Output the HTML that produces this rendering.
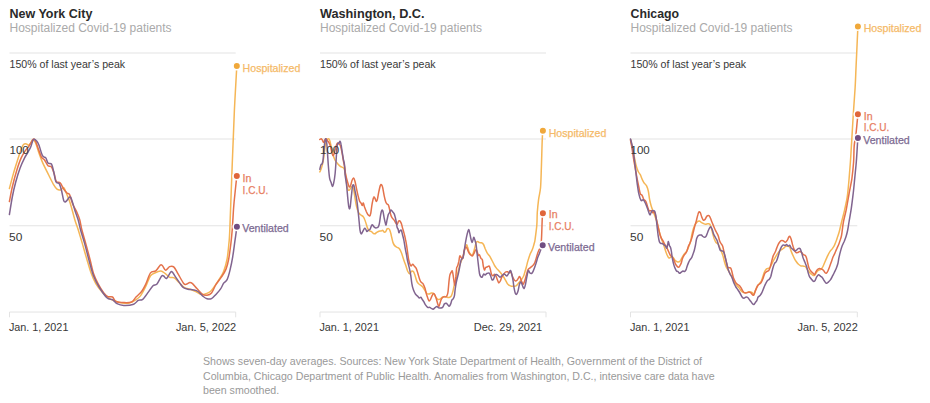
<!DOCTYPE html>
<html><head><meta charset="utf-8"><title>Hospitalized Covid-19 patients</title>
<style>
html,body{margin:0;padding:0;background:#fff;}
body{width:930px;height:403px;overflow:hidden;position:relative;font-family:"Liberation Sans",sans-serif;}
svg{position:absolute;left:0;top:0;}
svg text{font-family:"Liberation Sans",sans-serif;}
.t{font-size:12.6px;font-weight:bold;fill:#2a2a2a;}
.st{font-size:12px;fill:#aaa;}
.ax{font-size:10.6px;fill:#383838;}
.lb{font-size:10.6px;}
.note{position:absolute;left:203px;top:354.3px;width:520px;font-size:10.63px;line-height:14.5px;color:#999;margin:0;}
</style></head><body>
<svg width="930" height="403" viewBox="0 0 930 403">
<line x1="9.5" x2="235.7" y1="53.0" y2="53.0" stroke="#e3e3e3" stroke-width="1"/>
<line x1="9.5" x2="235.7" y1="139.0" y2="139.0" stroke="#e3e3e3" stroke-width="1"/>
<line x1="9.5" x2="235.7" y1="225.75" y2="225.75" stroke="#e3e3e3" stroke-width="1"/>
<path d="M9.5,317.3 V312.05 H235.7 V317.3" fill="none" stroke="#e3e3e3" stroke-width="1"/>
<path d="M9.4,188.5C10.1,186.0 12.0,178.5 13.4,173.6C14.8,168.7 16.6,163.1 17.9,159.0C19.2,154.9 20.3,151.4 21.2,149.0C22.1,146.6 22.6,145.3 23.5,144.5C24.4,143.7 25.5,143.8 26.4,143.9C27.2,144.0 27.9,145.3 28.6,145.2C29.3,145.0 30.1,144.0 30.8,143.0C31.6,142.0 32.3,139.3 33.1,139.4C33.9,139.5 34.8,141.1 35.8,143.4C36.8,145.8 38.0,150.3 39.1,153.5C40.2,156.7 41.0,159.1 42.5,162.4C44.0,165.8 46.1,169.9 48.0,173.6C49.9,177.3 52.1,182.1 53.6,184.7C55.1,187.3 55.8,188.3 57.0,189.2C58.2,190.1 59.7,190.2 60.8,189.9C61.9,189.7 62.7,186.9 63.7,187.7C64.7,188.5 65.9,192.1 67.0,194.8C68.1,197.5 69.1,199.5 70.4,203.7C71.7,207.9 73.6,215.6 74.9,220.0C76.2,224.4 77.1,226.1 78.3,230.0C79.5,233.9 80.9,238.6 82.3,243.4C83.7,248.2 85.3,254.0 86.8,259.0C88.3,264.0 89.8,269.5 91.3,273.6C92.8,277.7 93.9,280.4 95.8,283.6C97.7,286.8 100.5,290.3 102.5,292.6C104.5,294.9 106.0,296.1 108.0,297.5C110.0,298.9 112.3,300.1 114.7,301.0C117.1,301.9 120.2,302.7 122.6,303.0C125.0,303.3 127.3,303.4 129.3,303.0C131.4,302.6 133.1,301.6 134.9,300.4C136.8,299.2 138.6,298.3 140.4,295.9C142.2,293.5 144.3,289.2 146.0,285.9C147.7,282.5 148.9,278.0 150.5,275.8C152.1,273.6 153.6,273.5 155.3,272.7C157.0,271.9 159.2,271.0 160.9,271.1C162.6,271.2 163.8,272.6 165.3,273.6C166.8,274.7 168.3,276.7 169.8,277.4C171.3,278.1 172.7,276.9 174.3,277.8C175.9,278.7 177.8,281.4 179.5,283.0C181.2,284.6 182.8,286.7 184.6,287.7C186.4,288.7 188.3,288.6 190.2,289.2C192.1,289.8 193.9,290.6 195.8,291.5C197.7,292.4 199.7,294.0 201.4,294.4C203.1,294.8 204.4,294.2 205.9,293.7C207.4,293.2 208.8,292.8 210.3,291.5C211.8,290.2 213.3,287.9 214.8,285.9C216.3,283.8 217.8,281.6 219.3,279.2C220.8,276.8 222.4,274.7 223.7,271.3C225.0,267.9 226.3,263.3 227.1,259.0C227.9,254.7 228.2,250.4 228.7,245.6C229.1,240.8 229.2,243.4 229.8,230.0C230.4,216.6 231.4,185.0 232.2,165.0C233.0,145.0 233.6,126.5 234.4,110.0C235.2,93.5 236.4,73.4 236.8,66.1" fill="none" stroke="#f5b656" stroke-width="1.5" stroke-linejoin="round" stroke-linecap="round"/>
<path d="M9.4,201.5C9.9,199.1 11.1,192.2 12.3,187.0C13.5,181.8 15.3,175.0 16.8,170.2C18.3,165.3 19.7,161.2 21.2,157.9C22.7,154.6 24.4,152.1 25.7,150.1C27.0,148.1 27.8,147.9 29.0,146.1C30.2,144.3 32.1,140.3 33.1,139.4C34.1,138.5 34.5,139.3 35.3,140.7C36.1,142.1 37.0,145.2 38.0,147.9C39.0,150.6 40.2,154.8 41.3,156.8C42.4,158.9 43.6,158.7 44.7,160.2C45.8,161.7 46.9,164.7 48.0,165.8C49.1,166.9 50.4,165.6 51.4,166.9C52.4,168.2 53.3,171.2 54.1,173.6C54.9,176.0 55.3,179.8 56.3,181.4C57.3,183.0 59.1,181.7 60.3,183.0C61.5,184.3 62.6,187.5 63.7,189.2C64.8,190.9 66.0,192.1 67.0,193.0C68.0,193.9 68.8,193.0 69.7,194.8C70.6,196.6 71.4,200.7 72.6,203.7C73.8,206.7 75.9,210.0 77.1,212.7C78.3,215.4 79.0,217.1 79.8,220.0C80.6,222.9 80.9,226.1 81.9,230.0C82.9,233.9 84.3,238.4 85.7,243.4C87.1,248.4 88.9,255.2 90.2,260.2C91.5,265.2 92.2,269.7 93.5,273.6C94.8,277.5 96.3,280.4 98.0,283.6C99.7,286.8 101.9,290.4 103.6,292.6C105.3,294.8 106.5,295.9 108.0,296.6C109.5,297.3 111.2,296.2 112.5,297.0C113.8,297.8 114.0,300.6 115.9,301.5C117.8,302.4 121.1,302.5 123.7,302.6C126.3,302.7 129.4,302.9 131.5,302.0C133.6,301.1 134.3,298.8 136.0,297.0C137.7,295.2 139.9,293.7 141.6,291.5C143.3,289.3 144.5,286.7 146.0,283.6C147.5,280.5 148.9,275.0 150.5,272.9C152.1,270.8 154.2,272.2 155.8,270.9C157.4,269.6 159.2,266.0 160.3,265.1C161.4,264.2 161.6,265.0 162.5,265.8C163.4,266.6 164.4,270.1 165.6,270.2C166.8,270.3 168.2,267.2 169.6,266.6C170.9,266.1 172.3,265.7 173.7,266.9C175.1,268.1 176.3,270.9 177.9,273.6C179.5,276.3 182.1,281.4 183.5,283.2C184.9,285.0 185.1,284.4 186.2,284.3C187.2,284.2 188.8,282.6 189.8,282.5C190.9,282.4 191.3,282.6 192.5,283.6C193.7,284.6 195.2,286.7 196.9,288.5C198.6,290.3 200.8,293.3 202.5,294.4C204.2,295.5 205.5,295.4 207.0,295.2C208.5,295.0 210.0,294.8 211.5,293.0C213.0,291.2 214.2,287.4 215.9,284.7C217.6,282.0 219.8,279.5 221.5,276.9C223.2,274.3 224.8,272.1 226.0,269.1C227.2,266.1 227.9,263.3 228.7,259.0C229.5,254.7 230.3,248.2 230.9,243.4C231.5,238.6 231.9,233.8 232.2,230.0C232.5,226.2 232.5,225.6 232.8,220.9C233.1,216.2 233.4,209.5 234.1,202.0C234.8,194.5 236.4,180.4 236.8,176.1" fill="none" stroke="#e4724b" stroke-width="1.5" stroke-linejoin="round" stroke-linecap="round"/>
<path d="M9.4,214.5C9.9,211.6 11.3,202.3 12.3,197.0C13.3,191.7 14.3,187.3 15.6,182.5C16.9,177.7 18.6,172.1 20.1,168.0C21.6,163.9 23.3,160.5 24.6,157.9C25.9,155.3 26.9,154.2 27.9,152.3C28.9,150.5 29.9,149.0 30.8,146.8C31.7,144.7 32.5,140.3 33.5,139.4C34.5,138.5 36.0,140.2 36.9,141.2C37.8,142.2 38.2,143.2 39.1,145.6C40.0,148.0 41.4,153.6 42.5,155.7C43.6,157.8 44.9,156.7 45.8,157.9C46.7,159.1 47.1,162.1 48.0,163.1C48.9,164.1 50.5,162.6 51.4,164.0C52.3,165.4 52.9,168.3 53.6,171.3C54.4,174.3 55.0,179.8 55.9,181.8C56.8,183.9 58.3,182.2 59.2,183.6C60.1,185.0 60.8,187.5 61.5,190.3C62.2,193.1 63.0,198.5 63.7,200.4C64.4,202.3 64.9,202.1 65.9,201.5C66.9,200.9 68.8,197.4 69.7,197.0C70.6,196.6 70.6,197.1 71.5,199.3C72.4,201.5 73.8,207.0 74.9,210.4C76.0,213.8 77.2,216.7 78.2,220.0C79.2,223.3 79.5,226.1 80.6,230.0C81.7,233.9 83.2,238.4 84.6,243.4C86.0,248.4 87.5,254.8 89.0,260.2C90.5,265.6 91.8,271.3 93.5,275.8C95.2,280.3 96.9,283.4 99.1,287.0C101.3,290.6 104.7,295.6 106.9,297.7C109.1,299.8 110.8,298.7 112.5,299.7C114.2,300.7 115.1,302.7 117.0,303.7C118.9,304.7 120.9,305.4 123.7,305.5C126.5,305.6 131.3,305.1 133.7,304.2C136.1,303.3 136.7,301.2 138.2,300.4C139.7,299.6 141.0,300.7 142.7,299.3C144.4,297.9 146.6,294.4 148.3,292.1C150.0,289.8 151.6,287.1 153.0,285.7C154.4,284.3 155.6,285.5 157.0,283.9C158.4,282.3 160.4,277.6 161.5,276.3C162.6,275.0 162.9,275.6 163.7,276.0C164.5,276.4 165.4,279.1 166.5,278.5C167.6,277.9 169.4,273.6 170.4,272.5C171.4,271.4 171.6,271.3 172.5,272.2C173.4,273.1 174.7,275.8 176.0,277.7C177.3,279.6 178.9,281.9 180.2,283.6C181.4,285.3 182.2,286.8 183.5,287.7C184.8,288.6 186.3,288.8 188.0,289.2C189.7,289.6 191.9,289.5 193.6,289.9C195.3,290.3 196.5,290.5 198.0,291.5C199.5,292.5 201.0,294.7 202.5,295.9C204.0,297.1 205.5,298.4 207.0,298.8C208.5,299.2 210.0,299.3 211.5,298.6C213.0,297.9 214.4,296.0 215.9,294.4C217.4,292.8 219.1,291.1 220.4,289.2C221.7,287.3 222.6,284.8 223.7,283.2C224.8,281.6 226.0,281.8 227.1,279.6C228.2,277.4 229.1,274.0 230.0,270.2C230.9,266.4 231.9,261.6 232.7,256.8C233.5,252.0 234.2,246.2 234.9,241.2C235.6,236.2 236.6,229.2 236.9,226.8" fill="none" stroke="#81648f" stroke-width="1.5" stroke-linejoin="round" stroke-linecap="round"/>
<text x="9.5" y="18" class="t" style="font-size:12.5px">New York City</text>
<text x="9.5" y="31.5" class="st">Hospitalized Covid-19 patients</text>
<text x="9.5" y="67.7" class="ax">150% of last year’s peak</text>
<text x="9.5" y="153.6" class="ax" textLength="19.3" lengthAdjust="spacingAndGlyphs">100</text>
<text x="9.0" y="240.5" class="ax" textLength="13.3" lengthAdjust="spacingAndGlyphs">50</text>
<text x="8.9" y="330.6" class="ax" textLength="59.5" lengthAdjust="spacingAndGlyphs">Jan. 1, 2021</text>
<text x="175.9" y="330.6" class="ax" textLength="60.3" lengthAdjust="spacingAndGlyphs">Jan. 5, 2022</text>
<circle cx="236.8" cy="66.1" r="3.75" fill="#f0a83a" stroke="#fff" stroke-width="1.5"/>
<text x="242.6" y="71.7" class="lb" fill="#f5ba68" stroke="#f5ba68" stroke-width="0.25">Hospitalized</text>
<circle cx="236.8" cy="176.1" r="3.75" fill="#e0663a" stroke="#fff" stroke-width="1.5"/>
<text x="242.6" y="181.9" class="lb" fill="#e77e62" stroke="#e77e62" stroke-width="0.25">In</text>
<text x="242.6" y="193.6" class="lb" fill="#e77e62" stroke="#e77e62" stroke-width="0.25" textLength="25.6" lengthAdjust="spacingAndGlyphs">I.C.U.</text>
<circle cx="236.9" cy="226.8" r="3.75" fill="#714e82" stroke="#fff" stroke-width="1.5"/>
<text x="242.2" y="232.4" class="lb" fill="#7c6a92" stroke="#7c6a92" stroke-width="0.25">Ventilated</text>
<line x1="320" x2="546" y1="53.0" y2="53.0" stroke="#e3e3e3" stroke-width="1"/>
<line x1="320" x2="546" y1="139.0" y2="139.0" stroke="#e3e3e3" stroke-width="1"/>
<line x1="320" x2="546" y1="225.75" y2="225.75" stroke="#e3e3e3" stroke-width="1"/>
<path d="M320,317.3 V312.05 H546 V317.3" fill="none" stroke="#e3e3e3" stroke-width="1"/>
<path d="M319.8,171.9C320.1,171.3 320.7,170.3 321.3,168.5C321.9,166.7 322.6,164.6 323.2,161.0C323.8,157.4 324.5,150.4 325.1,146.9C325.7,143.4 326.3,141.6 326.9,140.2C327.5,138.8 328.2,138.6 328.7,138.7C329.2,138.8 329.4,139.4 329.9,140.9C330.3,142.4 330.9,145.4 331.4,147.6C331.9,149.8 332.3,152.2 332.9,154.3C333.5,156.4 334.4,158.8 335.1,160.3C335.8,161.8 336.4,162.3 337.3,163.3C338.2,164.3 339.3,165.6 340.3,166.3C341.3,167.1 342.6,167.1 343.3,167.8C344.1,168.5 344.3,168.7 344.8,170.7C345.3,172.7 345.9,177.2 346.2,179.7C346.5,182.1 346.6,183.7 346.9,185.4C347.2,187.1 347.7,189.2 348.1,189.9C348.5,190.7 349.0,190.3 349.5,189.9C350.0,189.5 350.4,188.3 350.9,187.7C351.3,187.1 351.8,186.2 352.2,186.5C352.6,186.8 353.2,187.6 353.6,189.2C354.0,190.8 354.3,193.6 354.7,195.9C355.1,198.2 355.5,201.1 355.9,203.3C356.3,205.5 356.8,207.7 357.3,209.3C357.8,210.9 358.2,212.0 358.8,213.0C359.4,214.0 360.4,214.6 361.1,215.2C361.9,215.8 362.7,215.9 363.3,216.7C363.9,217.4 364.3,218.4 364.8,219.7C365.3,220.9 365.8,222.7 366.3,224.2C366.8,225.7 367.2,227.5 367.8,228.6C368.4,229.7 369.0,230.4 369.6,230.9C370.2,231.4 370.9,231.2 371.5,231.6C372.1,232.0 372.4,232.7 373.0,233.1C373.6,233.5 374.3,233.9 374.9,233.8C375.5,233.7 376.0,232.8 376.7,232.4C377.4,232.0 378.1,231.6 378.9,231.3C379.6,231.1 380.6,231.1 381.2,230.9C381.8,230.8 382.2,230.2 382.7,230.4C383.2,230.6 383.7,231.9 384.2,232.1C384.7,232.3 385.2,232.1 385.7,231.6C386.2,231.1 386.6,229.4 387.1,228.9C387.6,228.4 388.2,228.4 388.6,228.6C389.1,228.8 389.4,229.2 389.8,230.1C390.2,231.0 390.6,232.7 390.9,233.8C391.2,234.9 391.2,235.4 391.6,236.9C392.0,238.4 392.6,241.4 393.1,242.9C393.7,244.4 394.2,245.2 394.9,245.9C395.6,246.6 396.4,246.8 397.1,247.3C397.9,247.8 398.6,247.8 399.4,248.8C400.1,249.8 400.9,251.4 401.6,253.3C402.3,255.2 403.1,257.9 403.8,260.0C404.5,262.1 405.4,264.1 406.0,266.0C406.6,267.9 407.1,269.9 407.7,271.2C408.3,272.5 409.0,273.7 409.7,273.7C410.4,273.7 411.0,271.5 411.6,271.2C412.2,270.9 412.8,271.0 413.4,271.6C413.9,272.2 414.3,273.3 414.9,274.9C415.4,276.4 416.1,279.4 416.7,280.9C417.3,282.4 417.9,283.1 418.6,283.8C419.3,284.5 420.2,284.8 420.9,285.3C421.6,285.8 422.0,286.1 422.6,286.8C423.2,287.6 423.9,288.7 424.6,289.8C425.3,290.9 426.1,292.8 426.8,293.5C427.6,294.2 428.4,294.1 429.1,294.0C429.9,293.9 430.6,293.2 431.3,293.1C432.0,293.0 432.8,292.8 433.5,293.5C434.2,294.2 435.1,296.2 435.8,297.2C436.6,298.2 437.3,299.2 438.0,299.5C438.7,299.8 439.4,299.4 440.2,299.0C440.9,298.6 441.8,297.6 442.5,297.2C443.2,296.8 444.0,296.5 444.7,296.5C445.4,296.5 446.1,297.0 446.9,297.2C447.6,297.4 448.4,297.7 449.2,297.5C449.9,297.3 450.8,296.8 451.4,295.8C452.0,294.8 452.5,292.8 452.9,291.3C453.3,289.8 453.5,288.5 453.9,286.8C454.3,285.1 454.8,282.9 455.4,280.9C456.0,278.9 456.8,277.2 457.4,274.9C458.0,272.6 458.6,269.4 459.2,267.1C459.8,264.8 460.5,262.9 461.2,261.2C461.9,259.5 462.5,258.8 463.1,256.7C463.7,254.6 464.3,250.5 464.9,248.5C465.4,246.5 465.9,245.1 466.4,244.8C466.8,244.6 467.2,245.8 467.6,247.0C468.1,248.2 468.6,250.9 469.1,252.2C469.7,253.4 470.4,254.0 470.9,254.5C471.4,255.0 471.8,255.7 472.3,255.2C472.8,254.7 473.4,252.9 473.8,251.5C474.2,250.1 474.6,248.5 475.0,247.0C475.4,245.5 475.7,243.5 476.1,242.6C476.5,241.7 477.0,241.5 477.6,241.5C478.2,241.5 478.9,242.4 479.5,242.6C480.1,242.8 480.8,242.5 481.5,242.8C482.2,243.1 482.9,243.5 483.5,244.5C484.1,245.5 484.6,247.2 485.2,248.7C485.8,250.1 486.6,251.9 487.3,253.2C488.1,254.4 488.9,255.0 489.7,256.2C490.5,257.4 491.2,259.1 492.0,260.5C492.8,261.9 493.5,263.5 494.2,264.8C494.9,266.1 495.6,267.1 496.4,268.1C497.2,269.1 498.0,269.8 498.8,270.7C499.6,271.6 500.2,272.3 501.0,273.3C501.8,274.3 502.6,275.4 503.3,276.5C504.1,277.6 504.8,279.0 505.5,280.2C506.2,281.4 506.9,283.0 507.5,283.9C508.1,284.8 508.6,285.0 509.3,285.4C510.0,285.8 510.8,286.1 511.5,286.2C512.2,286.3 513.0,286.2 513.7,286.2C514.5,286.1 515.3,286.3 516.0,285.9C516.7,285.5 517.3,284.6 517.9,283.9C518.5,283.2 519.1,282.4 519.7,281.7C520.3,281.0 520.9,280.4 521.5,279.5C522.1,278.6 522.8,277.8 523.4,276.5C524.0,275.2 524.4,273.6 524.9,272.0C525.4,270.4 525.9,268.7 526.4,266.8C526.9,264.9 527.3,262.9 527.9,260.9C528.5,258.9 529.2,256.5 529.8,254.9C530.4,253.3 531.0,252.4 531.6,251.2C532.2,249.9 532.7,248.8 533.1,247.4C533.5,246.0 534.0,244.2 534.3,243.0C534.6,241.8 534.6,242.9 535.0,240.0C535.4,237.1 536.4,230.0 536.8,225.4C537.2,220.8 537.0,216.7 537.3,212.3C537.6,208.0 538.1,203.4 538.6,199.3C539.1,195.2 540.0,193.4 540.5,188.0C541.0,182.6 541.1,174.8 541.4,166.6C541.7,158.4 542.0,144.6 542.3,138.6C542.5,132.6 542.8,132.1 542.9,130.8" fill="none" stroke="#f5b656" stroke-width="1.5" stroke-linejoin="round" stroke-linecap="round"/>
<path d="M319.8,139.4C320.1,139.3 320.9,138.6 321.3,138.7C321.7,138.8 322.0,139.6 322.4,140.2C322.8,140.8 323.2,142.5 323.6,142.4C324.1,142.3 324.7,140.0 325.1,139.4C325.6,138.8 325.9,138.7 326.3,138.9C326.7,139.2 327.2,140.2 327.7,140.9C328.2,141.6 328.7,142.2 329.2,143.2C329.7,144.2 330.1,145.2 330.6,146.9C331.1,148.6 331.7,152.1 332.1,153.6C332.5,155.1 332.8,155.9 333.2,155.8C333.6,155.7 333.9,154.4 334.4,152.9C334.8,151.4 335.4,148.5 335.9,146.9C336.4,145.3 336.8,143.7 337.3,143.2C337.8,142.7 338.3,143.5 338.8,143.9C339.3,144.3 339.8,144.2 340.3,145.5C340.8,146.8 341.3,148.9 341.8,151.4C342.3,153.9 342.8,157.6 343.3,160.3C343.8,163.0 344.4,165.4 344.8,167.8C345.2,170.2 345.2,172.6 345.7,175.0C346.2,177.4 347.1,180.4 347.7,182.4C348.3,184.4 348.7,186.4 349.2,186.9C349.7,187.4 350.1,186.5 350.6,185.4C351.1,184.3 351.6,181.4 352.1,180.2C352.6,179.0 353.1,177.8 353.6,178.0C354.1,178.2 354.6,179.8 355.1,181.7C355.6,183.6 356.1,186.8 356.6,189.2C357.1,191.6 357.6,193.9 358.1,195.9C358.6,197.9 359.1,199.9 359.6,201.1C360.1,202.3 360.7,202.6 361.1,203.3C361.6,204.0 361.9,205.6 362.3,205.5C362.7,205.4 362.9,202.8 363.3,203.0C363.7,203.2 364.0,205.6 364.5,207.0C365.0,208.4 365.8,210.2 366.3,211.5C366.9,212.8 367.2,213.8 367.8,214.5C368.4,215.2 369.1,216.2 369.6,216.0C370.1,215.8 370.4,215.1 370.8,213.0C371.2,210.9 371.7,205.9 372.2,203.3C372.7,200.7 373.2,198.2 373.7,197.3C374.1,196.4 374.5,197.4 374.9,198.1C375.3,198.8 375.9,201.4 376.3,201.5C376.7,201.6 377.1,200.5 377.5,198.8C377.9,197.1 378.4,193.6 378.9,191.4C379.4,189.2 379.9,186.5 380.4,185.4C380.8,184.3 381.2,184.3 381.6,184.7C382.0,185.1 382.3,185.8 382.7,187.7C383.1,189.6 383.7,193.6 384.2,195.9C384.7,198.2 385.2,200.5 385.7,201.8C386.2,203.2 386.6,203.4 387.1,204.0C387.6,204.6 388.2,204.5 388.6,205.5C389.0,206.5 389.3,208.4 389.7,210.0C390.1,211.6 390.4,213.8 390.9,215.2C391.3,216.6 391.8,217.3 392.4,218.2C393.0,219.1 393.7,219.5 394.3,220.4C394.9,221.3 395.6,222.8 396.1,223.4C396.6,224.0 396.9,224.6 397.3,224.2C397.7,223.8 398.2,221.8 398.6,221.2C399.0,220.6 399.4,220.5 399.8,220.9C400.2,221.3 400.9,222.4 401.3,223.4C401.7,224.4 401.9,225.6 402.3,227.1C402.7,228.6 403.2,230.3 403.8,232.4C404.4,234.5 405.1,237.2 405.6,239.9C406.2,242.6 406.6,245.6 407.1,248.8C407.6,252.0 408.1,256.7 408.6,259.3C409.1,261.9 409.7,263.4 410.1,264.5C410.5,265.6 410.8,266.1 411.2,266.0C411.6,265.9 412.2,264.2 412.7,264.2C413.2,264.2 413.6,265.3 414.2,266.0C414.8,266.7 415.5,267.0 416.1,268.2C416.7,269.4 417.3,271.5 417.9,273.4C418.5,275.3 419.1,277.9 419.7,279.4C420.2,280.9 420.6,281.6 421.2,282.3C421.8,283.0 422.5,282.8 423.1,283.8C423.7,284.8 424.4,286.6 425.0,288.3C425.6,290.1 426.0,292.6 426.5,294.3C427.0,296.0 427.6,297.6 428.0,298.7C428.4,299.8 428.7,300.9 429.1,301.0C429.5,301.1 430.0,300.4 430.5,299.5C431.0,298.6 431.5,296.8 432.0,295.8C432.5,294.8 433.0,293.6 433.5,293.5C434.0,293.4 434.5,294.0 435.0,295.0C435.5,296.0 436.0,297.9 436.5,299.5C437.0,301.1 437.6,303.6 438.0,304.7C438.4,305.8 438.6,306.6 439.0,306.2C439.4,305.8 439.8,303.8 440.2,302.5C440.6,301.2 441.1,299.6 441.7,298.7C442.2,297.8 442.9,297.2 443.5,296.9C444.1,296.6 444.8,297.1 445.4,296.9C446.0,296.7 446.5,296.6 446.9,295.8C447.3,295.0 447.7,294.2 448.0,292.0C448.3,289.8 448.6,285.2 448.9,282.3C449.2,279.4 449.5,276.6 449.9,274.9C450.3,273.2 451.0,272.5 451.4,271.9C451.8,271.3 452.1,270.4 452.4,271.2C452.7,271.9 453.0,274.3 453.3,276.4C453.6,278.5 454.1,282.4 454.4,283.8C454.7,285.2 454.9,285.8 455.1,284.6C455.4,283.4 455.6,279.1 455.9,276.4C456.1,273.7 456.3,270.0 456.6,268.2C456.9,266.4 457.3,266.9 457.7,265.7C458.1,264.5 458.5,262.8 458.9,261.2C459.2,259.6 459.4,256.6 459.8,256.0C460.2,255.4 460.7,257.1 461.2,257.5C461.7,257.9 462.2,259.3 462.7,258.2C463.2,257.1 463.7,252.7 464.2,250.8C464.7,248.9 465.1,247.4 465.6,247.0C466.1,246.6 466.6,247.6 467.1,248.5C467.6,249.4 468.1,251.2 468.6,252.2C469.1,253.2 469.5,253.9 470.1,254.5C470.7,255.1 471.7,256.1 472.3,256.0C472.9,255.9 473.2,254.7 473.8,253.7C474.4,252.7 475.1,250.5 475.6,250.0C476.1,249.5 476.4,249.9 476.8,250.8C477.2,251.7 477.9,254.5 478.3,255.2C478.8,255.9 479.1,254.4 479.5,254.9C479.9,255.4 480.5,257.5 481.0,258.4C481.5,259.2 482.0,258.6 482.4,260.0C482.8,261.4 483.0,264.8 483.4,266.5C483.8,268.2 484.1,269.8 484.5,270.0C484.9,270.2 485.2,268.0 485.7,267.5C486.2,267.0 486.9,267.0 487.5,266.8C488.1,266.6 488.7,265.8 489.2,266.2C489.7,266.6 489.9,267.9 490.3,269.2C490.7,270.5 491.0,273.0 491.4,274.1C491.8,275.2 492.4,275.8 492.9,275.8C493.4,275.8 493.9,274.3 494.4,274.3C494.9,274.3 495.4,274.9 495.9,275.8C496.4,276.7 496.8,278.3 497.3,279.5C497.8,280.7 498.3,282.6 498.8,282.9C499.3,283.1 499.8,281.9 500.3,281.0C500.8,280.1 501.2,278.3 501.8,277.2C502.4,276.1 503.0,275.2 503.6,274.3C504.2,273.4 504.9,272.4 505.5,272.0C506.1,271.6 506.9,271.6 507.5,271.7C508.1,271.8 508.4,272.8 509.0,272.8C509.6,272.9 510.3,271.5 510.8,272.0C511.3,272.5 511.7,274.6 512.2,275.8C512.7,277.1 513.5,278.6 514.0,279.5C514.5,280.4 515.0,280.9 515.5,281.0C516.0,281.1 516.5,280.7 517.0,280.2C517.5,279.7 518.0,278.6 518.5,278.0C519.0,277.4 519.3,276.2 519.7,276.5C520.1,276.8 520.5,278.4 520.9,279.5C521.3,280.6 522.0,282.4 522.4,283.2C522.8,283.9 523.0,284.5 523.4,284.0C523.8,283.5 524.4,281.7 524.9,280.2C525.4,278.7 525.9,276.7 526.4,275.0C526.9,273.3 527.4,270.9 527.9,269.8C528.4,268.7 528.8,268.8 529.4,268.3C530.0,267.8 530.7,267.3 531.3,266.8C531.9,266.3 532.5,265.9 533.1,265.3C533.7,264.7 534.1,264.2 534.6,263.1C535.1,262.0 535.6,260.2 536.1,258.6C536.6,257.0 537.1,254.9 537.6,253.4C538.1,251.9 538.7,250.6 539.1,249.7C539.5,248.8 539.7,249.8 540.1,248.2C540.5,246.6 541.0,245.4 541.4,240.3C541.8,235.2 542.0,222.4 542.3,217.9C542.5,213.4 542.8,214.1 542.9,213.3" fill="none" stroke="#e4724b" stroke-width="1.5" stroke-linejoin="round" stroke-linecap="round"/>
<path d="M319.8,169.2C320.0,168.5 320.6,165.7 321.0,164.8C321.4,163.9 321.8,164.6 322.2,163.6C322.6,162.6 322.9,161.6 323.2,158.8C323.5,156.0 323.8,150.1 324.2,146.9C324.6,143.7 325.0,140.5 325.4,139.4C325.8,138.3 326.0,138.7 326.3,140.2C326.6,141.7 326.9,144.1 327.2,148.4C327.5,152.8 328.0,161.3 328.4,166.3C328.8,171.3 329.2,175.7 329.6,178.2C330.0,180.7 330.3,180.3 330.6,181.2C330.9,182.1 331.1,182.5 331.4,183.4C331.7,184.3 332.0,186.4 332.4,186.4C332.8,186.4 333.2,185.5 333.6,183.4C334.1,181.3 334.7,177.8 335.1,173.7C335.5,169.6 335.9,163.3 336.2,158.8C336.5,154.3 336.7,149.5 337.0,146.9C337.3,144.3 337.8,143.8 338.1,143.2C338.5,142.6 338.8,143.5 339.1,143.2C339.4,142.9 339.7,140.9 340.0,141.2C340.3,141.4 340.8,143.0 341.1,144.7C341.5,146.4 341.7,149.1 342.1,151.4C342.5,153.8 342.9,156.6 343.3,158.8C343.7,161.0 344.2,162.1 344.5,164.8C344.8,167.5 344.8,171.6 345.1,175.0C345.5,178.4 346.2,181.7 346.6,185.4C347.0,189.1 347.4,193.8 347.7,197.3C348.0,200.8 348.4,204.4 348.7,206.3C349.0,208.2 349.2,209.0 349.5,209.0C349.8,209.0 350.0,208.5 350.3,206.3C350.6,204.1 351.0,199.1 351.4,195.9C351.8,192.7 352.1,188.8 352.4,186.9C352.7,185.0 352.9,184.8 353.2,184.7C353.5,184.6 353.8,185.1 354.1,186.2C354.4,187.3 354.7,189.3 355.1,191.4C355.5,193.5 356.1,195.6 356.6,198.8C357.1,202.0 357.7,207.1 358.1,210.8C358.5,214.5 358.8,218.0 359.1,221.2C359.4,224.4 359.7,228.0 360.0,230.1C360.3,232.2 360.7,233.4 361.1,233.8C361.5,234.2 361.9,233.1 362.3,232.4C362.7,231.7 363.2,230.5 363.6,229.8C364.0,229.1 364.4,228.4 364.8,228.3C365.2,228.2 365.4,228.9 365.8,229.4C366.2,229.9 366.6,231.5 367.0,231.6C367.4,231.7 368.0,230.5 368.5,230.1C369.0,229.7 369.5,230.1 370.0,229.4C370.5,228.7 371.1,226.4 371.5,225.7C371.9,224.9 372.1,224.7 372.5,224.9C372.9,225.1 373.4,226.3 374.0,226.8C374.6,227.3 375.3,227.9 376.0,227.9C376.7,227.9 377.6,227.8 378.2,227.1C378.8,226.3 379.0,225.5 379.4,223.4C379.8,221.3 380.3,216.7 380.7,214.5C381.1,212.3 381.5,210.8 381.9,210.3C382.3,209.8 382.6,210.2 383.0,211.5C383.4,212.8 383.8,216.2 384.2,218.2C384.6,220.2 385.1,222.3 385.4,223.4C385.7,224.5 385.8,225.5 386.1,224.9C386.4,224.3 386.7,221.4 387.1,219.7C387.5,218.0 387.9,215.8 388.3,214.5C388.8,213.2 389.4,212.9 389.8,212.2C390.2,211.4 390.5,210.1 390.9,210.0C391.3,209.9 391.9,210.9 392.4,211.5C392.9,212.1 393.6,212.7 394.1,213.7C394.6,214.7 394.9,216.0 395.3,217.5C395.7,219.0 396.1,221.1 396.4,222.7C396.7,224.3 396.8,226.1 397.1,227.2C397.4,228.3 397.9,228.6 398.2,229.5C398.5,230.4 398.6,232.4 398.9,232.7C399.2,232.9 399.4,231.4 399.8,231.0C400.2,230.6 400.9,229.7 401.3,230.2C401.7,230.7 401.9,232.3 402.3,233.9C402.7,235.5 403.3,237.4 403.8,239.9C404.3,242.4 404.8,246.1 405.3,248.8C405.8,251.5 406.5,254.4 406.8,256.3C407.1,258.2 407.0,258.1 407.4,260.0C407.8,261.9 408.6,264.9 409.2,267.4C409.8,269.9 410.2,272.2 410.7,274.9C411.1,277.6 411.4,281.3 411.9,283.8C412.3,286.3 412.8,288.1 413.4,289.8C414.0,291.6 414.9,293.2 415.6,294.3C416.4,295.4 417.3,295.9 417.9,296.5C418.5,297.1 418.9,297.9 419.4,298.0C419.9,298.1 420.4,296.9 420.9,297.2C421.4,297.4 421.8,298.8 422.3,299.5C422.8,300.2 423.3,300.8 423.8,301.7C424.3,302.6 424.7,303.8 425.3,304.7C425.9,305.6 426.9,306.9 427.6,307.4C428.4,307.8 429.2,307.2 429.8,307.4C430.4,307.6 430.8,308.1 431.3,308.4C431.9,308.7 432.5,309.3 433.1,309.2C433.7,309.1 434.4,308.1 435.0,307.7C435.6,307.2 436.3,306.5 436.9,306.5C437.5,306.5 438.0,307.4 438.7,307.7C439.4,307.9 440.3,308.1 441.0,308.0C441.7,307.9 442.3,307.6 442.9,306.9C443.5,306.2 443.8,304.5 444.4,303.9C444.9,303.3 445.6,303.1 446.2,303.2C446.8,303.3 447.2,304.2 447.7,304.7C448.2,305.2 448.7,306.3 449.2,306.2C449.7,306.1 450.3,304.9 450.7,303.9C451.1,302.9 451.4,301.1 451.8,300.2C452.2,299.3 452.9,299.4 453.3,298.7C453.7,298.0 454.1,297.3 454.4,295.8C454.7,294.3 454.8,292.1 455.1,289.8C455.4,287.6 455.8,284.8 456.3,282.3C456.8,279.8 457.5,277.4 458.1,274.9C458.7,272.4 459.2,269.6 459.7,267.1C460.2,264.6 460.6,261.3 461.2,259.7C461.8,258.1 462.6,259.0 463.1,257.5C463.6,256.0 463.8,253.4 464.2,250.8C464.6,248.2 465.1,244.5 465.6,241.8C466.1,239.1 466.6,236.4 467.1,234.4C467.6,232.4 468.2,229.8 468.6,229.6C469.0,229.3 469.3,231.4 469.7,232.9C470.1,234.4 470.5,237.2 470.9,238.8C471.3,240.4 471.6,242.5 472.0,242.6C472.4,242.7 472.8,240.5 473.1,239.6C473.4,238.7 473.5,237.2 473.8,237.3C474.1,237.4 474.6,239.1 475.0,240.3C475.4,241.6 475.8,242.6 476.1,244.8C476.5,247.0 476.7,250.5 477.1,253.7C477.5,256.9 477.9,260.9 478.3,264.2C478.7,267.5 479.1,271.4 479.5,273.5C479.9,275.6 480.2,275.9 480.7,276.5C481.1,277.1 481.7,277.6 482.2,277.2C482.7,276.8 483.1,274.4 483.6,274.0C484.1,273.6 484.6,275.1 485.1,275.0C485.7,274.9 486.2,273.8 486.9,273.5C487.6,273.2 488.6,272.7 489.2,273.1C489.8,273.5 490.1,274.7 490.6,275.8C491.1,276.9 491.6,279.4 492.1,279.9C492.6,280.4 493.1,279.8 493.6,279.0C494.1,278.2 494.6,275.7 495.1,275.0C495.6,274.3 496.1,274.5 496.6,274.6C497.1,274.7 497.5,275.1 498.1,275.5C498.7,275.9 499.4,277.1 500.0,277.2C500.6,277.2 501.1,276.3 501.8,275.8C502.5,275.3 503.5,274.1 504.1,274.0C504.7,273.9 505.0,274.7 505.5,275.0C506.0,275.3 506.4,276.2 507.0,275.8C507.6,275.4 508.4,273.7 509.0,272.8C509.6,271.9 510.0,270.2 510.5,270.5C511.0,270.8 511.4,272.7 511.8,274.3C512.2,275.9 512.6,278.0 513.0,280.2C513.4,282.4 513.6,285.6 514.0,287.7C514.4,289.8 514.8,291.8 515.2,292.9C515.6,294.0 516.0,294.6 516.4,294.4C516.8,294.1 517.4,292.9 517.9,291.4C518.4,289.9 518.8,287.0 519.2,285.4C519.6,283.8 520.0,282.4 520.4,282.0C520.8,281.6 521.2,282.4 521.6,283.2C522.0,284.0 522.6,286.0 523.0,286.9C523.4,287.8 523.8,288.8 524.2,288.4C524.6,288.0 525.0,286.6 525.4,284.7C525.8,282.8 526.3,279.6 526.8,277.2C527.3,274.8 527.8,271.2 528.3,270.5C528.8,269.8 529.2,272.3 529.8,272.8C530.3,273.3 531.0,273.8 531.6,273.5C532.2,273.2 532.6,272.3 533.1,271.3C533.6,270.3 534.1,269.0 534.6,267.6C535.1,266.2 535.6,264.7 536.1,263.1C536.6,261.5 537.1,259.5 537.6,257.9C538.1,256.3 538.9,254.8 539.4,253.4C539.9,252.0 540.2,251.0 540.8,249.7C541.3,248.3 542.4,246.0 542.7,245.3" fill="none" stroke="#81648f" stroke-width="1.5" stroke-linejoin="round" stroke-linecap="round"/>
<text x="320" y="18" class="t" style="font-size:12.7px">Washington, D.C.</text>
<text x="320" y="31.5" class="st">Hospitalized Covid-19 patients</text>
<text x="320" y="67.7" class="ax">150% of last year’s peak</text>
<text x="320" y="153.6" class="ax" textLength="19.3" lengthAdjust="spacingAndGlyphs">100</text>
<text x="319.5" y="240.5" class="ax" textLength="13.3" lengthAdjust="spacingAndGlyphs">50</text>
<text x="319.4" y="330.6" class="ax" textLength="59.5" lengthAdjust="spacingAndGlyphs">Jan. 1, 2021</text>
<text x="473.7" y="330.6" class="ax" textLength="68.5" lengthAdjust="spacingAndGlyphs">Dec. 29, 2021</text>
<circle cx="542.9" cy="130.8" r="3.75" fill="#f0a83a" stroke="#fff" stroke-width="1.5"/>
<text x="548.7" y="136.9" class="lb" fill="#f5ba68" stroke="#f5ba68" stroke-width="0.25">Hospitalized</text>
<circle cx="542.9" cy="213.3" r="3.75" fill="#e0663a" stroke="#fff" stroke-width="1.5"/>
<text x="548.7" y="218.4" class="lb" fill="#e77e62" stroke="#e77e62" stroke-width="0.25">In</text>
<text x="548.7" y="230.1" class="lb" fill="#e77e62" stroke="#e77e62" stroke-width="0.25" textLength="25.6" lengthAdjust="spacingAndGlyphs">I.C.U.</text>
<circle cx="542.7" cy="245.3" r="3.75" fill="#714e82" stroke="#fff" stroke-width="1.5"/>
<text x="548.0" y="250.9" class="lb" fill="#7c6a92" stroke="#7c6a92" stroke-width="0.25">Ventilated</text>
<line x1="630.5" x2="857.3" y1="53.0" y2="53.0" stroke="#e3e3e3" stroke-width="1"/>
<line x1="630.5" x2="857.3" y1="139.0" y2="139.0" stroke="#e3e3e3" stroke-width="1"/>
<line x1="630.5" x2="857.3" y1="225.75" y2="225.75" stroke="#e3e3e3" stroke-width="1"/>
<path d="M630.5,317.3 V312.05 H857.3 V317.3" fill="none" stroke="#e3e3e3" stroke-width="1"/>
<path d="M630.5,139.4C630.8,140.6 631.5,143.9 632.1,146.8C632.7,149.7 633.7,153.8 634.3,156.8C634.9,159.8 635.3,162.2 635.9,164.6C636.5,167.0 637.4,169.6 638.1,171.3C638.8,173.0 639.6,173.4 640.3,174.7C641.0,176.0 641.4,177.8 642.1,179.2C642.8,180.6 643.5,182.1 644.3,183.2C645.0,184.3 645.9,184.5 646.6,185.9C647.3,187.3 647.9,189.2 648.4,191.5C648.9,193.8 649.2,197.6 649.7,200.0C650.2,202.4 650.7,204.3 651.2,206.0C651.7,207.7 652.2,209.0 652.7,210.4C653.2,211.8 653.7,212.9 654.2,214.2C654.7,215.4 655.0,216.2 655.6,217.9C656.2,219.6 657.0,222.2 657.6,224.6C658.2,226.9 658.9,229.9 659.4,232.0C659.9,234.1 660.4,235.7 660.9,237.2C661.4,238.7 661.8,239.7 662.3,241.0C662.8,242.3 663.3,243.7 663.7,245.0C664.1,246.3 664.5,247.3 664.9,248.7C665.3,250.1 665.9,251.9 666.4,253.2C666.9,254.5 667.4,255.8 667.9,256.6C668.4,257.4 668.6,258.0 669.1,258.1C669.6,258.2 670.1,257.4 670.6,257.2C671.1,256.9 671.8,256.4 672.3,256.6C672.8,256.8 673.3,257.7 673.8,258.4C674.3,259.1 674.8,260.1 675.3,260.6C675.8,261.2 676.5,261.5 677.1,261.7C677.7,261.9 678.5,262.0 679.1,261.8C679.7,261.6 680.0,261.3 680.5,260.6C681.0,259.9 681.5,258.6 682.0,257.7C682.5,256.8 682.9,256.0 683.5,255.1C684.1,254.2 685.2,253.1 685.8,252.4C686.4,251.7 686.3,251.9 686.9,250.7C687.5,249.5 688.6,247.0 689.2,245.4C689.8,243.8 690.3,242.7 690.7,241.0C691.1,239.3 691.4,237.0 691.8,235.0C692.2,233.0 692.8,230.7 693.3,229.0C693.8,227.3 694.4,225.8 695.1,224.6C695.8,223.4 696.7,222.2 697.4,221.6C698.1,221.0 698.7,220.8 699.3,220.9C699.9,221.0 700.4,221.9 701.1,222.3C701.8,222.7 702.6,223.2 703.3,223.5C704.0,223.8 704.8,224.2 705.5,224.3C706.2,224.4 707.1,223.8 707.8,223.8C708.5,223.8 709.1,223.5 709.7,224.1C710.3,224.7 710.7,226.0 711.2,227.6C711.7,229.2 712.2,231.7 712.7,233.5C713.2,235.3 713.7,237.2 714.2,238.7C714.8,240.2 715.3,241.6 716.0,242.5C716.7,243.4 717.6,243.4 718.2,244.2C718.8,245.0 719.1,246.1 719.7,247.4C720.3,248.7 721.0,250.4 721.6,251.9C722.2,253.4 722.6,254.7 723.1,256.4C723.6,258.1 724.1,260.6 724.6,262.3C725.1,264.0 725.6,265.6 726.1,266.8C726.6,268.1 727.2,268.7 727.9,269.8C728.6,270.9 729.4,272.1 730.1,273.5C730.8,274.9 731.5,276.5 732.3,278.0C733.0,279.5 733.9,281.3 734.6,282.5C735.4,283.7 736.0,284.5 736.8,285.4C737.5,286.3 738.4,287.0 739.1,287.9C739.8,288.8 740.3,289.9 741.0,290.7C741.7,291.4 742.3,292.1 743.1,292.4C743.9,292.7 744.9,292.8 745.8,292.7C746.7,292.6 747.6,292.2 748.4,292.1C749.2,292.0 749.8,292.0 750.5,292.1C751.2,292.2 752.0,292.5 752.5,292.9C753.0,293.3 753.2,294.8 753.7,294.5C754.2,294.2 754.6,292.3 755.2,290.9C755.8,289.5 756.7,287.4 757.4,286.2C758.1,285.0 758.5,284.8 759.2,283.9C759.9,283.0 760.8,282.2 761.4,281.0C762.0,279.8 762.4,278.0 762.9,276.5C763.4,275.0 763.8,273.2 764.4,272.0C765.0,270.8 765.6,269.7 766.3,269.1C767.0,268.5 767.8,268.6 768.4,268.3C769.0,268.1 769.4,268.2 769.9,267.6C770.4,267.0 770.8,265.7 771.4,264.6C772.0,263.5 772.6,262.1 773.3,260.9C773.9,259.7 774.7,258.4 775.3,257.3C775.9,256.2 776.4,255.3 777.0,254.4C777.6,253.5 778.2,252.5 778.9,251.7C779.6,250.9 780.5,250.3 781.2,249.8C782.0,249.3 782.7,249.0 783.4,248.5C784.1,248.0 784.6,247.0 785.3,246.6C786.0,246.2 786.9,245.8 787.6,245.9C788.3,246.0 789.0,246.3 789.6,247.1C790.2,247.9 790.6,249.5 791.1,250.9C791.6,252.3 792.3,253.9 792.9,255.3C793.5,256.7 794.1,258.0 794.7,259.1C795.3,260.2 796.0,261.1 796.6,262.0C797.2,262.9 797.8,263.7 798.5,264.3C799.2,264.9 799.9,265.5 800.6,265.8C801.4,266.1 802.2,266.0 803.0,266.1C803.8,266.2 804.4,266.0 805.1,266.5C805.8,267.0 806.4,268.1 807.0,269.0C807.6,269.9 808.3,270.9 809.0,271.7C809.7,272.5 810.4,273.3 811.1,273.9C811.8,274.5 812.4,275.1 813.0,275.4C813.6,275.6 814.0,275.8 814.5,275.4C815.0,275.0 815.5,273.9 816.0,273.2C816.5,272.5 816.9,271.6 817.5,271.0C818.1,270.4 818.8,270.2 819.4,269.9C820.0,269.6 820.6,269.6 821.2,269.0C821.8,268.4 822.4,267.7 823.0,266.5C823.6,265.3 824.3,263.5 824.9,262.0C825.5,260.5 826.2,259.0 826.8,257.6C827.4,256.2 828.0,254.9 828.6,253.8C829.2,252.7 829.8,251.8 830.4,250.9C831.0,250.0 831.8,249.5 832.4,248.6C833.0,247.7 833.7,246.8 834.3,245.6C834.9,244.4 835.5,242.7 836.1,241.2C836.7,239.7 837.1,238.2 837.6,236.7C838.1,235.2 838.4,234.7 839.1,232.2C839.8,229.7 840.8,225.2 841.7,221.5C842.6,217.8 843.6,214.4 844.5,210.3C845.4,206.2 846.4,202.5 847.2,197.2C848.0,191.9 848.6,184.5 849.1,178.6C849.6,172.7 850.0,167.4 850.4,162.0C850.8,156.6 850.9,153.9 851.4,145.9C851.9,137.9 852.7,123.9 853.3,114.2C853.9,104.5 854.6,96.0 855.1,88.0C855.6,80.0 855.6,76.2 856.1,65.9C856.6,55.6 857.6,33.0 857.9,26.4" fill="none" stroke="#f5b656" stroke-width="1.5" stroke-linejoin="round" stroke-linecap="round"/>
<path d="M630.5,140.1C630.8,141.6 631.6,145.8 632.1,149.0C632.6,152.2 633.1,155.7 633.6,159.0C634.1,162.3 634.8,165.7 635.4,169.1C636.0,172.5 636.6,176.2 637.2,179.2C637.8,182.2 638.3,184.6 638.8,187.0C639.3,189.4 639.8,192.3 640.3,193.7C640.8,195.1 641.5,194.4 642.1,195.3C642.7,196.2 643.1,198.3 643.7,199.3C644.3,200.3 645.2,200.2 645.9,201.5C646.6,202.8 647.2,205.5 647.7,207.1C648.2,208.7 648.6,210.2 649.2,210.8C649.8,211.4 650.6,210.4 651.2,210.7C651.8,211.0 652.2,212.5 652.7,212.7C653.2,212.8 653.7,211.1 654.2,211.6C654.7,212.1 655.1,213.8 655.6,215.6C656.1,217.4 656.6,220.1 657.1,222.3C657.6,224.5 658.1,226.9 658.6,229.0C659.1,231.1 659.6,233.4 660.1,235.0C660.6,236.6 661.1,237.7 661.6,238.7C662.1,239.7 662.6,240.1 663.1,241.0C663.6,241.9 664.1,243.1 664.6,244.0C665.1,244.9 665.6,245.3 666.1,246.2C666.6,247.1 667.1,248.3 667.6,249.4C668.1,250.5 668.5,251.5 669.0,252.5C669.5,253.5 669.9,254.7 670.4,255.4C670.9,256.1 671.7,256.1 672.3,256.9C672.9,257.6 673.3,258.8 673.8,259.9C674.3,261.0 674.8,262.6 675.3,263.6C675.8,264.6 676.2,265.3 676.8,265.9C677.3,266.5 678.1,267.3 678.6,267.3C679.1,267.3 679.3,266.6 679.8,265.9C680.2,265.2 680.8,264.1 681.3,262.9C681.8,261.6 682.0,259.6 682.5,258.4C683.0,257.1 683.5,256.3 684.0,255.4C684.5,254.5 685.3,254.1 685.8,253.2C686.3,252.3 686.8,251.3 687.2,250.2C687.6,249.0 688.0,247.5 688.4,246.3C688.8,245.1 689.3,244.6 689.9,243.2C690.5,241.8 691.2,239.9 691.8,238.0C692.4,236.1 692.8,234.0 693.3,232.0C693.8,230.0 694.3,227.9 694.8,226.1C695.3,224.2 695.8,222.8 696.3,220.9C696.8,219.0 697.3,216.4 697.8,214.9C698.2,213.4 698.6,212.3 699.0,211.9C699.4,211.5 699.8,211.8 700.3,212.7C700.8,213.6 701.3,215.9 701.8,217.1C702.3,218.3 702.8,219.7 703.3,220.1C703.8,220.5 704.5,220.0 705.1,219.4C705.7,218.8 706.1,217.0 706.7,216.4C707.3,215.8 708.0,215.5 708.5,215.6C709.0,215.7 709.5,216.2 710.0,217.1C710.5,218.0 711.0,219.7 711.5,220.9C712.0,222.2 712.5,223.4 713.0,224.6C713.5,225.8 714.0,227.1 714.5,228.3C715.0,229.5 715.7,230.8 716.3,232.0C716.9,233.2 717.7,234.4 718.2,235.8C718.7,237.2 719.1,239.3 719.5,240.5C719.9,241.7 720.2,242.1 720.7,243.0C721.2,243.9 722.1,244.7 722.6,246.0C723.1,247.3 723.3,248.8 723.7,250.6C724.1,252.4 724.5,254.8 725.0,256.8C725.5,258.8 726.0,261.0 726.5,262.8C727.0,264.6 727.4,266.6 727.9,267.4C728.4,268.2 728.9,267.5 729.4,267.7C729.9,267.9 730.5,267.6 730.9,268.3C731.3,269.0 731.6,270.4 732.0,272.0C732.4,273.6 732.9,276.3 733.5,278.0C734.1,279.7 734.8,280.9 735.4,282.0C736.0,283.1 736.7,283.7 737.4,284.3C738.1,284.9 738.8,284.9 739.4,285.5C740.0,286.1 740.6,286.9 741.1,287.8C741.6,288.7 742.0,289.8 742.5,290.6C743.0,291.4 743.5,292.3 744.1,292.7C744.7,293.1 745.3,293.0 745.9,293.0C746.5,293.0 747.0,292.8 747.5,292.6C748.0,292.4 748.5,292.0 749.0,292.0C749.5,292.0 750.2,292.2 750.7,292.6C751.2,293.0 751.6,293.9 752.1,294.3C752.6,294.7 753.2,295.6 753.7,295.2C754.2,294.8 754.5,293.3 754.9,292.2C755.3,291.1 755.9,289.6 756.4,288.4C756.9,287.2 757.4,285.9 757.9,285.2C758.4,284.5 759.0,284.5 759.6,284.0C760.2,283.5 760.7,283.1 761.2,282.3C761.7,281.5 762.3,280.1 762.8,279.0C763.3,277.9 763.6,276.5 764.0,275.5C764.4,274.5 764.6,273.8 765.0,273.2C765.4,272.6 766.0,272.1 766.6,271.6C767.2,271.2 768.2,271.3 768.8,270.5C769.4,269.7 769.8,268.4 770.3,266.8C770.8,265.2 771.3,262.8 771.8,260.9C772.3,259.0 772.7,257.1 773.3,255.6C773.9,254.1 774.6,253.3 775.2,252.0C775.8,250.7 776.3,249.0 776.9,247.6C777.5,246.2 778.0,244.7 778.7,243.5C779.4,242.3 780.2,241.2 781.0,240.7C781.8,240.2 782.5,240.4 783.2,240.7C783.9,240.9 784.7,242.2 785.4,242.2C786.1,242.1 786.7,241.2 787.2,240.4C787.8,239.6 788.2,237.9 788.7,237.2C789.2,236.5 789.5,236.0 789.9,236.3C790.3,236.6 790.6,237.5 791.1,238.9C791.6,240.3 792.1,243.2 792.6,244.9C793.1,246.7 793.6,248.2 794.1,249.4C794.6,250.6 795.3,251.8 795.9,252.3C796.5,252.8 797.0,252.7 797.6,252.6C798.2,252.5 799.0,251.6 799.6,251.6C800.2,251.6 800.9,251.8 801.5,252.3C802.1,252.8 802.7,254.1 803.3,254.6C803.9,255.1 804.5,254.7 805.1,255.3C805.7,255.9 806.2,256.9 806.6,258.3C807.0,259.7 807.4,261.9 807.8,263.5C808.2,265.1 808.5,266.8 809.0,268.0C809.5,269.2 810.1,270.1 810.8,271.0C811.5,271.9 812.4,272.6 813.0,273.2C813.6,273.8 814.0,274.9 814.5,274.7C815.0,274.4 815.5,272.6 816.0,271.7C816.5,270.8 816.9,270.1 817.5,269.5C818.1,268.9 818.7,268.5 819.4,268.4C820.1,268.3 820.8,268.7 821.5,269.0C822.2,269.3 822.8,269.6 823.4,270.2C824.0,270.8 824.4,272.0 824.9,272.5C825.4,273.0 825.9,273.4 826.4,273.2C826.9,272.9 827.4,272.0 827.9,271.0C828.4,270.0 828.8,268.7 829.4,267.2C830.0,265.7 830.7,263.7 831.3,262.0C831.9,260.3 832.5,258.3 833.1,256.8C833.7,255.3 834.3,254.5 834.9,253.1C835.5,251.7 836.1,250.1 836.8,248.6C837.4,247.1 838.2,245.8 838.8,244.2C839.4,242.6 840.1,240.5 840.6,238.9C841.1,237.3 841.2,237.4 841.7,234.5C842.2,231.6 842.7,225.7 843.5,221.5C844.3,217.3 845.4,214.0 846.3,209.3C847.2,204.6 848.2,198.6 849.1,193.5C850.0,188.4 851.1,183.8 851.9,178.6C852.6,173.3 853.2,167.4 853.6,162.0C854.0,156.6 853.8,150.8 854.2,145.9C854.6,141.0 855.5,138.1 856.1,132.8C856.7,127.5 857.6,117.3 857.9,114.2" fill="none" stroke="#e4724b" stroke-width="1.5" stroke-linejoin="round" stroke-linecap="round"/>
<path d="M630.5,138.9C630.9,140.4 632.1,144.6 632.7,147.9C633.3,151.2 633.8,154.9 634.3,159.0C634.8,163.1 635.4,168.4 635.9,172.5C636.4,176.6 636.7,180.1 637.2,183.6C637.7,187.1 638.2,190.9 638.8,193.7C639.4,196.5 640.3,199.4 641.0,200.4C641.7,201.4 642.5,199.3 643.2,199.7C643.9,200.1 644.6,201.5 645.3,203.0C646.0,204.5 646.8,206.6 647.5,208.5C648.2,210.4 649.2,213.9 649.8,214.7C650.4,215.4 650.5,213.7 650.9,213.0C651.3,212.3 651.7,211.1 652.2,210.7C652.7,210.3 653.2,210.4 653.7,210.6C654.2,210.8 654.5,210.6 654.9,211.8C655.3,213.0 655.7,215.1 656.1,217.6C656.5,220.1 656.8,223.8 657.1,226.8C657.5,229.8 657.8,233.3 658.2,235.8C658.6,238.3 659.0,240.4 659.4,241.7C659.8,243.0 660.4,243.2 660.9,243.5C661.4,243.8 661.8,243.3 662.3,243.5C662.8,243.7 663.3,244.3 663.8,244.7C664.3,245.1 664.8,245.2 665.3,245.8C665.8,246.4 666.3,248.4 666.7,248.2C667.1,248.0 667.4,245.6 667.7,244.5C668.0,243.4 668.1,241.3 668.4,241.5C668.7,241.7 669.0,244.5 669.4,245.5C669.8,246.5 670.3,246.6 670.6,247.6C670.9,248.6 671.1,249.7 671.4,251.5C671.7,253.3 672.0,256.6 672.4,258.6C672.8,260.6 673.1,262.0 673.5,263.6C673.9,265.2 674.5,266.9 675.0,268.1C675.5,269.4 676.0,270.5 676.5,271.1C677.0,271.7 677.5,271.1 678.0,271.5C678.5,271.9 679.0,273.2 679.5,273.3C680.0,273.4 680.7,272.5 681.3,272.1C681.9,271.7 682.5,271.2 683.1,271.1C683.7,271.0 684.1,271.8 684.6,271.5C685.1,271.2 685.7,270.5 686.1,269.6C686.5,268.7 686.8,267.0 687.2,265.9C687.6,264.8 688.0,263.9 688.4,262.9C688.8,261.9 689.3,260.8 689.9,259.9C690.5,259.0 691.2,258.4 691.8,257.3C692.4,256.2 692.9,254.3 693.4,253.0C693.9,251.7 694.2,250.8 694.5,249.5C694.8,248.2 695.0,247.3 695.4,245.5C695.8,243.7 696.1,240.3 696.6,238.7C697.1,237.1 697.6,236.4 698.1,235.8C698.6,235.2 699.1,235.1 699.6,235.0C700.1,234.9 700.9,234.8 701.4,235.0C701.9,235.2 702.3,236.1 702.9,236.5C703.5,236.9 704.2,237.3 704.8,237.2C705.4,237.1 705.8,236.7 706.3,235.8C706.8,234.9 707.3,233.2 707.8,232.0C708.3,230.8 708.8,229.2 709.3,228.3C709.8,227.4 710.3,226.6 710.8,226.8C711.3,227.1 711.8,228.6 712.3,229.8C712.8,231.1 713.1,232.9 713.7,234.3C714.3,235.7 715.1,236.9 715.7,238.0C716.3,239.1 716.8,239.7 717.3,241.0C717.8,242.3 718.2,244.3 718.7,245.8C719.2,247.3 719.6,249.2 720.1,250.0C720.6,250.8 721.4,250.5 722.0,250.8C722.6,251.1 723.2,250.8 723.7,251.8C724.2,252.8 724.7,255.1 725.2,257.0C725.7,258.9 726.2,261.3 726.7,263.4C727.2,265.5 727.6,267.6 728.2,269.4C728.8,271.2 729.5,273.0 730.1,274.3C730.7,275.6 731.2,275.7 731.8,277.0C732.4,278.3 732.9,280.4 733.5,282.0C734.1,283.6 734.9,285.2 735.6,286.5C736.4,287.8 737.2,288.8 738.0,290.0C738.8,291.2 739.5,292.3 740.2,293.5C740.9,294.7 741.5,296.2 742.1,297.0C742.7,297.8 743.4,298.2 744.0,298.2C744.6,298.2 745.0,297.3 745.6,297.2C746.2,297.1 746.9,297.0 747.5,297.3C748.1,297.6 748.5,298.4 749.0,299.1C749.5,299.8 750.2,300.6 750.7,301.3C751.2,302.0 751.8,302.9 752.3,303.5C752.8,304.1 753.3,304.7 753.8,304.6C754.3,304.5 754.6,303.5 755.1,302.9C755.6,302.2 756.3,301.6 756.8,300.7C757.3,299.8 757.5,298.1 757.9,297.3C758.3,296.6 758.8,296.6 759.3,296.2C759.8,295.8 760.2,295.4 760.7,294.6C761.2,293.8 761.9,292.7 762.4,291.5C762.9,290.3 763.4,288.8 764.0,287.4C764.6,286.0 765.2,284.5 765.8,283.4C766.4,282.2 766.9,281.2 767.5,280.5C768.1,279.8 768.8,279.9 769.3,279.2C769.8,278.5 770.3,277.8 770.8,276.5C771.2,275.2 771.6,273.1 772.0,271.5C772.4,269.9 772.8,268.3 773.2,267.0C773.6,265.7 774.0,264.4 774.5,263.5C775.0,262.6 775.7,262.6 776.3,261.5C776.9,260.4 777.5,258.4 778.0,256.8C778.5,255.2 779.0,253.2 779.5,251.6C780.0,250.0 780.7,248.2 781.3,247.1C781.9,246.0 782.6,245.2 783.2,244.9C783.8,244.7 784.5,245.7 785.1,245.6C785.7,245.5 786.1,244.5 786.6,244.6C787.1,244.7 787.6,246.0 788.1,246.1C788.6,246.2 789.1,244.9 789.6,245.2C790.1,245.5 790.6,247.2 791.1,247.9C791.6,248.6 792.3,248.9 792.9,249.4C793.5,249.9 794.1,250.8 794.7,250.9C795.3,251.0 796.0,250.5 796.6,250.1C797.2,249.7 797.5,248.8 798.1,248.6C798.7,248.3 799.4,248.0 800.0,248.6C800.6,249.2 801.0,250.8 801.5,252.3C802.0,253.8 802.5,256.0 803.0,257.6C803.5,259.2 804.2,260.5 804.8,262.0C805.4,263.5 806.0,264.8 806.6,266.5C807.2,268.2 807.6,270.8 808.1,272.5C808.6,274.2 809.0,275.8 809.6,276.9C810.2,278.0 810.9,278.4 811.5,279.2C812.1,279.9 812.8,281.1 813.4,281.4C814.0,281.6 814.3,281.4 814.9,280.7C815.5,279.9 816.1,277.9 816.7,276.9C817.3,275.9 817.9,274.8 818.5,274.7C819.1,274.6 819.8,275.7 820.4,276.2C821.0,276.7 821.8,276.9 822.4,277.7C823.0,278.4 823.5,279.8 824.2,280.7C824.9,281.6 825.7,283.1 826.4,283.3C827.1,283.5 827.6,282.7 828.3,282.1C829.0,281.5 829.7,280.9 830.4,279.9C831.1,278.9 831.8,277.4 832.4,276.2C833.0,275.0 833.7,273.8 834.3,272.5C834.9,271.2 835.5,270.2 836.1,268.7C836.7,267.2 837.4,265.5 837.9,263.5C838.4,261.5 838.6,258.9 839.1,256.8C839.6,254.7 840.1,252.8 840.6,250.9C841.1,249.0 841.7,247.2 842.3,245.6C842.9,244.0 843.6,242.8 844.3,241.2C844.9,239.6 845.6,237.9 846.2,236.0C846.8,234.1 847.2,232.4 847.7,230.0C848.2,227.6 848.5,225.1 849.1,221.5C849.7,217.9 850.6,213.1 851.3,208.4C852.0,203.7 852.6,198.5 853.2,193.5C853.8,188.5 854.2,183.8 854.7,178.6C855.2,173.3 855.8,168.1 856.3,162.0C856.8,155.9 857.3,146.1 857.6,142.1C857.9,138.1 857.9,138.6 857.9,137.9" fill="none" stroke="#81648f" stroke-width="1.5" stroke-linejoin="round" stroke-linecap="round"/>
<text x="630.5" y="18" class="t" style="font-size:12.3px">Chicago</text>
<text x="630.5" y="31.5" class="st">Hospitalized Covid-19 patients</text>
<text x="630.5" y="67.7" class="ax">150% of last year’s peak</text>
<text x="630.5" y="153.6" class="ax" textLength="19.3" lengthAdjust="spacingAndGlyphs">100</text>
<text x="630.0" y="240.5" class="ax" textLength="13.3" lengthAdjust="spacingAndGlyphs">50</text>
<text x="629.9" y="330.6" class="ax" textLength="59.5" lengthAdjust="spacingAndGlyphs">Jan. 1, 2021</text>
<text x="797.5" y="330.6" class="ax" textLength="60.3" lengthAdjust="spacingAndGlyphs">Jan. 5, 2022</text>
<circle cx="857.9" cy="26.4" r="3.75" fill="#f0a83a" stroke="#fff" stroke-width="1.5"/>
<text x="863.7" y="32.0" class="lb" fill="#f5ba68" stroke="#f5ba68" stroke-width="0.25">Hospitalized</text>
<circle cx="857.9" cy="114.2" r="3.75" fill="#e0663a" stroke="#fff" stroke-width="1.5"/>
<text x="863.7" y="119.5" class="lb" fill="#e77e62" stroke="#e77e62" stroke-width="0.25">In</text>
<text x="863.7" y="131.2" class="lb" fill="#e77e62" stroke="#e77e62" stroke-width="0.25" textLength="25.6" lengthAdjust="spacingAndGlyphs">I.C.U.</text>
<circle cx="857.9" cy="137.9" r="3.75" fill="#714e82" stroke="#fff" stroke-width="1.5"/>
<text x="863.2" y="143.9" class="lb" fill="#7c6a92" stroke="#7c6a92" stroke-width="0.25">Ventilated</text>
</svg>
<p class="note">Shows seven-day averages. Sources: New York State Department of Health, Government of the District of<br>Columbia, Chicago Department of Public Health. Anomalies from Washington, D.C., intensive care data have<br>been smoothed.</p>
</body></html>
